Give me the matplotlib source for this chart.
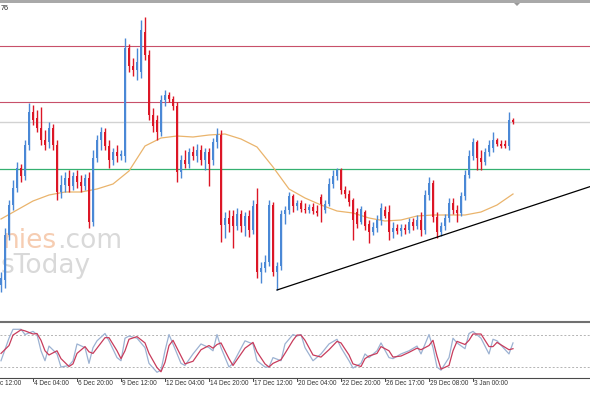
import matplotlib
matplotlib.use("Agg")
import matplotlib.pyplot as plt
import matplotlib.transforms as mtransforms
from matplotlib.lines import Line2D
from matplotlib.patches import Rectangle, Polygon
import numpy as np

# ---------------- data (H4 candles, price units) ----------------
opens = [6475, 6500, 6725, 6875, 6960, 7060, 7020, 7175, 7340, 7310,
         7260, 7200, 7190, 7260, 7175, 6940, 6975, 7010, 6970, 7020,
         6990, 6970, 7010, 6790, 7110, 7200, 7240, 7170, 7100, 7140,
         7120, 7120, 7660, 7570, 7550, 7540, 7740, 7625, 7325, 7300,
         7240, 7400, 7425, 7405, 7370, 7040, 7100, 7080, 7140, 7120,
         7150, 7100, 7140, 7100, 7190, 7225, 6775, 6810, 6820, 6770,
         6830, 6770, 6820, 6750, 6880, 6540, 6560, 6590, 6875, 6540,
         6570, 6830, 6850, 6920, 6870, 6885, 6855, 6850, 6865, 6845,
         6915, 6850, 6880, 6980, 7020, 7050, 6950, 6930, 6900, 6840,
         6790, 6840, 6780, 6740, 6760, 6800, 6850, 6840, 6740, 6760,
         6745, 6760, 6750, 6790, 6770, 6800, 6750, 6925, 6985, 6815,
         6740, 6770, 6810, 6885, 6850, 6835, 6920, 7025, 7120, 7190,
         7110, 7090, 7140, 7160, 7200, 7180, 7180, 7170, 7300]
highs = [6540, 6760, 6900, 7000, 7090, 7080, 7200, 7385, 7375, 7350,
         7365, 7250, 7290, 7280, 7200, 7025, 7040, 7050, 7040, 7050,
         7025, 7030, 7040, 7150, 7225, 7265, 7260, 7200, 7160, 7175,
         7150, 7710, 7680, 7610, 7660, 7800, 7815, 7650, 7360, 7325,
         7425, 7450, 7440, 7420, 7390, 7125, 7150, 7160, 7170, 7180,
         7175, 7160, 7160, 7210, 7260, 7250, 6840, 6850, 6850, 6860,
         6850, 6840, 6850, 6900, 6960, 6590, 6625, 6900, 6890, 6590,
         6850, 6870, 6940, 6930, 6900, 6900, 6885, 6880, 6885, 6875,
         6930, 6900, 7010, 7050, 7060, 7060, 6970, 6950, 6910, 6860,
         6870, 6850, 6800, 6790, 6825, 6885, 6870, 6875, 6790, 6780,
         6780, 6780, 6810, 6810, 6825, 6840, 6950, 7015, 7000, 6840,
         6790, 6830, 6910, 6910, 6875, 6940, 7050, 7150, 7210, 7200,
         7150, 7160, 7200, 7240, 7210, 7200, 7200, 7340, 7310]
lows = [6440, 6460, 6700, 6850, 6940, 6990, 7000, 7150, 7275, 7240,
        7175, 7150, 7160, 7150, 6900, 6910, 6940, 6940, 6950, 6960,
        6940, 6950, 6760, 6770, 7090, 7150, 7150, 7060, 7075, 7090,
        7100, 7090, 7540, 7520, 7500, 7510, 7600, 7300, 7240, 7200,
        7220, 7370, 7390, 7350, 6990, 7010, 7060, 7060, 7100, 7090,
        7075, 7050, 6970, 7075, 7160, 6690, 6710, 6740, 6660, 6750,
        6740, 6720, 6715, 6730, 6510, 6485, 6540, 6570, 6520, 6450,
        6550, 6780, 6830, 6840, 6850, 6840, 6835, 6835, 6830, 6820,
        6790, 6835, 6870, 6960, 7000, 6930, 6910, 6870, 6700, 6760,
        6780, 6750, 6685, 6725, 6740, 6775, 6810, 6700, 6710, 6730,
        6720, 6730, 6735, 6750, 6755, 6720, 6730, 6900, 6790, 6710,
        6720, 6750, 6790, 6830, 6790, 6820, 6900, 7010, 7100, 7050,
        7050, 7075, 7120, 7140, 7170, 7160, 7160, 7150, 7280]
closes = [6510, 6725, 6875, 6960, 7060, 7020, 7175, 7340, 7300, 7260,
          7200, 7175, 7260, 7175, 6940, 6975, 7010, 6970, 7020, 6990,
          6970, 7010, 6790, 7110, 7200, 7240, 7170, 7100, 7140, 7120,
          7130, 7660, 7570, 7550, 7590, 7750, 7625, 7325, 7270, 7240,
          7400, 7425, 7405, 7370, 7040, 7100, 7080, 7140, 7120, 7150,
          7100, 7140, 7080, 7190, 7225, 6775, 6810, 6780, 6770, 6830,
          6770, 6820, 6750, 6870, 6540, 6560, 6590, 6875, 6540, 6570,
          6830, 6850, 6920, 6870, 6885, 6855, 6850, 6865, 6845, 6835,
          6880, 6880, 6980, 7020, 7050, 6950, 6930, 6890, 6800, 6780,
          6855, 6770, 6740, 6765, 6800, 6860, 6820, 6740, 6760, 6745,
          6760, 6750, 6790, 6770, 6800, 6750, 6925, 6985, 6815, 6740,
          6770, 6810, 6885, 6850, 6835, 6920, 7025, 7120, 7190, 7110,
          7090, 7140, 7175, 7200, 7180, 7170, 7170, 7300, 7290]

# moving average, read every 4 bars
ma_idx = [0, 4, 8, 12, 16, 20, 24, 28, 32, 36, 40, 44, 48, 52, 56, 60, 64,
          68, 72, 76, 80, 84, 88, 92, 96, 100, 104, 108, 112, 116, 120, 124, 128]
ma_vals = [6805, 6850, 6895, 6925, 6940, 6940, 6955, 6980, 7045, 7170, 7210,
           7220, 7215, 7225, 7230, 7205, 7165, 7065, 6955, 6910, 6875, 6845,
           6835, 6810, 6795, 6800, 6820, 6825, 6825, 6825, 6840, 6875, 6930]

# horizontal levels
resist_levels = [7670, 7390]
current_price = 7290
support_level = 7055
trend_x = [69, 150]
trend_y = [6450, 6985]

# stochastic oscillator
stoch_idx = [0, 2, 3, 5, 6, 8, 9, 10, 11, 12, 14, 15, 17, 18, 19, 21, 22, 23, 24,
             26, 27, 29, 30, 31, 32, 34, 36, 37, 39, 40, 41, 42, 43, 45, 46, 48,
             50, 52, 53, 54, 55, 57, 58, 61, 63, 64, 66, 67, 68, 70, 71, 73, 74,
             75, 76, 78, 80, 82, 84, 85, 87, 88, 90, 91, 92, 94, 95, 97, 98, 100,
             102, 104, 105, 107, 108, 109, 110, 112, 113, 114, 116, 117, 118, 120,
             122, 123, 124, 127, 128]
stoch_main = [31, 74, 91, 91, 81, 87, 81, 50, 31, 59, 44, 19, 22, 31, 63, 56, 26,
              56, 69, 83, 69, 37, 31, 74, 78, 74, 56, 26, 9, 13, 50, 81, 63, 26,
              22, 44, 63, 56, 50, 81, 56, 19, 26, 69, 63, 31, 19, 19, 37, 31, 63,
              81, 78, 81, 56, 31, 44, 63, 72, 56, 31, 17, 26, 44, 37, 50, 65, 37,
              35, 44, 50, 59, 44, 81, 56, 19, 13, 37, 74, 65, 54, 83, 87, 74, 44,
              72, 69, 44, 65]
stoch_signal = [45, 60, 80, 90, 88, 82, 83, 70, 50, 42, 50, 35, 20, 25, 45, 58,
                48, 45, 55, 75, 75, 50, 35, 50, 72, 77, 65, 45, 18, 10, 28, 60,
                70, 40, 25, 30, 52, 60, 55, 62, 65, 35, 22, 55, 66, 48, 25, 19,
                26, 33, 45, 70, 80, 80, 70, 42, 38, 52, 68, 65, 42, 25, 20, 35,
                40, 45, 58, 50, 38, 40, 47, 55, 52, 60, 70, 40, 15, 22, 50, 68,
                62, 70, 82, 82, 58, 58, 66, 52, 54]
stoch_levels = [80, 20]

tick_idx = [-3, 8, 19, 30, 41, 52, 63, 74, 85, 96, 107, 118]
tick_labels = ["c 12:00", "4 Dec 04:00", "6 Dec 20:00", "9 Dec 12:00",
               "12 Dec 04:00", "14 Dec 20:00", "17 Dec 12:00", "20 Dec 04:00",
               "22 Dec 20:00", "26 Dec 17:00", "29 Dec 08:00", "3 Jan 00:00"]

# ---------------- style ----------------
BLUE = "#4a88d6"
RED = "#dc1626"
W, H = 590, 393


def fy(ypx):
    return 1 - ypx / H


fig = plt.figure(figsize=(W / 100, H / 100), dpi=100)
fig.patch.set_facecolor("white")

XLIM = (-0.25, 147.25)

# main price panel
ax = fig.add_axes([0, fy(321), 1, (321 - 3) / H])
ax.set_xlim(*XLIM)
ax.set_ylim(6295, 7885)
ax.set_axis_off()

# watermark (visible part)
t1 = ax.text(122 / W, fy(248), ".com", transform=fig.transFigure, ha="right",
             va="baseline", fontsize=19, color="#d9d9d9", zorder=0)
fig.canvas.draw()
bb = t1.get_window_extent()
ax.text(bb.x0 / W, fy(248), "nies", transform=fig.transFigure, ha="right",
        va="baseline", fontsize=19, color="#f6cdb2", zorder=0)
ax.text(91 / W, fy(273), "sToday", transform=fig.transFigure, ha="right",
        va="baseline", fontsize=19, color="#d9d9d9", zorder=0)

for lv in resist_levels:
    ax.axhline(lv, color="#c8506a", lw=0.8, zorder=1)
ax.axhline(current_price, color="#d2d2d2", lw=1.0, zorder=1)
ax.axhline(support_level, color="#34b070", lw=0.9, zorder=1)

o = np.array(opens, float)
c = np.array(closes, float)
h = np.array(highs, float)
l = np.array(lows, float)
idx = np.arange(len(o))
cols = np.where(c >= o, BLUE, RED)
ax.vlines(idx, l, h, colors=cols, lw=1.0, zorder=3)
ax.bar(idx, np.maximum(np.abs(c - o), 7), bottom=np.minimum(o, c), width=0.72,
       color=cols, linewidth=0, zorder=4)

ax.plot(ma_idx, ma_vals, color="#eab46c", lw=0.9, zorder=2)
ax.plot(trend_x, trend_y, color="black", lw=0.9, zorder=5)

# stochastic panel
ax2 = fig.add_axes([0, fy(377), 1, (377 - 323) / H])
ax2.set_xlim(*XLIM)
ax2.set_ylim(0, 103)
ax2.set_axis_off()
for lv in stoch_levels:
    ax2.axhline(lv, color="#b4b4b4", lw=0.7, ls=(0, (2, 2)))
ax2.plot(stoch_idx, stoch_main, color="#9cb2d2", lw=0.9)
ax2.plot(stoch_idx, stoch_signal, color="#c83c5c", lw=0.9)

# frame lines
fig.add_artist(Rectangle((0, fy(2.6)), 1, 2.6 / H, transform=fig.transFigure,
                         color="#a9a9a9", lw=0))
fig.add_artist(Line2D([0, 1], [fy(322), fy(322)], transform=fig.transFigure,
                      color="#707070", lw=1.5))
fig.add_artist(Line2D([0, 1], [fy(377.5), fy(377.5)], transform=fig.transFigure,
                      color="#4a4a4a", lw=0.8))
fig.add_artist(Polygon([[514 / W, fy(3)], [520 / W, fy(3)], [517 / W, fy(6)]],
                       closed=True, transform=fig.transFigure, color="#9a9a9a", lw=0))

fig.text(0.5 / W, fy(9), "76", ha="left", va="center", fontsize=5.2,
         color="#222222", family="Liberation Sans")

# time axis
trans = mtransforms.blended_transform_factory(ax2.transData, fig.transFigure)
for ti, lab in zip(tick_idx, tick_labels):
    if ti >= 0:
        fig.add_artist(Line2D([ti, ti], [fy(377.5), fy(381)], transform=trans,
                              color="#4a4a4a", lw=0.7))
        fig.text(ti + 0.2, fy(383.5), lab, transform=trans, family="Liberation Sans",
                 fontsize=4.7, color="#333333", ha="left", va="center")
    else:
        fig.text(0.3 / W, fy(383.5), lab, family="Liberation Sans",
                 fontsize=4.7, color="#333333", ha="left", va="center")

fig.savefig("out.png", dpi=100, facecolor="white")
